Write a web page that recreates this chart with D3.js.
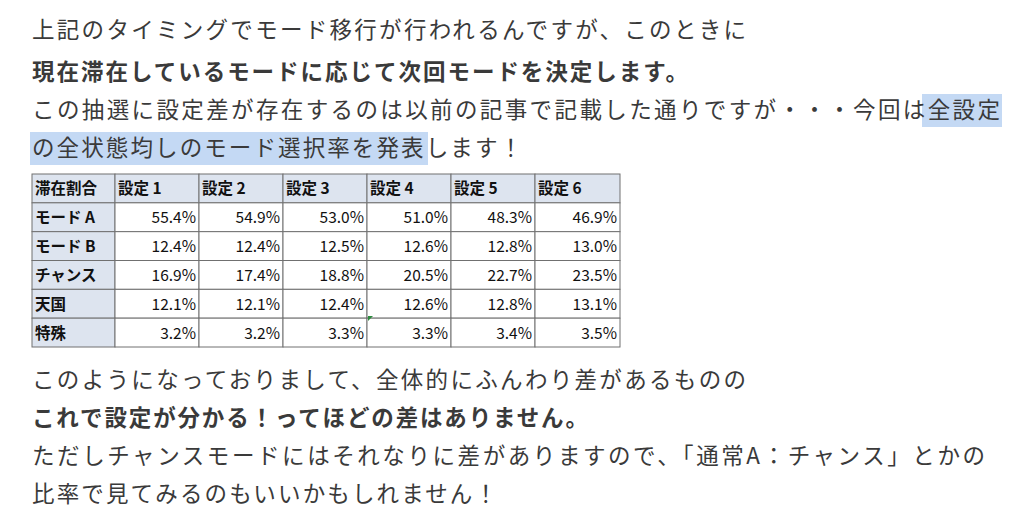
<!DOCTYPE html>
<html>
<head>
<meta charset="utf-8">
<script src="https://d3js.org/d3.v7.min.js"></script>
<style>
  body, html { margin: 0; background: #fff; }
  svg { font-family: "Noto Sans CJK JP", sans-serif; }
</style>
</head>
<body>
<svg id="chart" width="1024" height="520"></svg>
<script>
var columns = ["滞在割合", "設定 1", "設定 2", "設定 3", "設定 4", "設定 5", "設定 6"];
var modes = ["モード A", "モード B", "チャンス", "天国", "特殊"];
var modeA = [55.4, 54.9, 53.0, 51.0, 48.3, 46.9];
var modeB = [12.4, 12.4, 12.5, 12.6, 12.8, 13.0];
var chance = [16.9, 17.4, 18.8, 20.5, 22.7, 23.5];
var tengoku = [12.1, 12.1, 12.4, 12.6, 12.8, 13.1];
var tokushu = [3.2, 3.2, 3.3, 3.3, 3.4, 3.5];
var rows = [modeA, modeB, chance, tengoku, tokushu];

var svg = d3.select("#chart");

// paragraph text (len = rendered width in the screenshot)
var lines = [
  {y: 38, t: "上記のタイミングでモード移行が行われるんですが、このときに", len: 714},
  {y: 80, t: "現在滞在しているモードに応じて次回モードを決定します。", bold: true, len: 656},
  {y: 118, t: "この抽選に設定差が存在するのは以前の記事で記載した通りですが・・・今回は全設定", len: 968, hl: [922, 1002]},
  {y: 156, t: "の全状態均しのモード選択率を発表します！", len: 490, hl: [30, 428]},
  {y: 388, t: "このようになっておりまして、全体的にふんわり差があるものの", len: 714},
  {y: 426, t: "これで設定が分かる！ってほどの差はありません。", bold: true, len: 556},
  {y: 464, t: "ただしチャンスモードにはそれなりに差がありますので、「通常A：チャンス」とかの", len: 953},
  {y: 502, t: "比率で見てみるのもいいかもしれません！", len: 465}
];
lines.forEach(function(l) {
  if (l.hl) {
    svg.append("rect").attr("x", l.hl[0]).attr("y", l.y - 24)
      .attr("width", l.hl[1] - l.hl[0]).attr("height", 33).attr("fill", "#c4d9f4");
  }
  svg.append("text").attr("x", 32).attr("y", l.y)
    .attr("font-size", 22.5).attr("fill", "#3a3a3a")
    .attr("textLength", l.len).attr("lengthAdjust", "spacing")
    .attr("font-weight", l.bold ? "bold" : "normal")
    .text(l.t);
});

// table
var colX = [32, 115, 199, 283, 367, 451, 535, 620];
var y = d3.scaleBand().domain(d3.range(6)).range([174, 347]);
var g = svg.append("g");
for (var r = 0; r < 6; r++) {
  for (var c = 0; c < 7; c++) {
    var x0 = colX[c], w = colX[c + 1] - colX[c];
    var head = r === 0 || c === 0;
    g.append("rect").attr("x", x0).attr("y", y(r)).attr("width", w).attr("height", y.bandwidth())
      .attr("fill", head ? "#dde4ef" : "#fff").attr("stroke", "#707070").attr("stroke-width", 1);
    var txt, anchor = "start", tx = x0 + 3;
    if (r === 0) txt = columns[c];
    else if (c === 0) txt = modes[r - 1];
    else { txt = rows[r - 1][c - 1].toFixed(1) + "%"; anchor = "end"; tx = x0 + w - 3; }
    g.append("text").attr("x", tx).attr("y", y(r) + y.bandwidth() / 2 + 6)
      .attr("text-anchor", anchor).attr("font-size", 15.5)
      .attr("font-weight", head ? "bold" : "normal").attr("fill", "#111").text(txt);
  }
}
g.append("path").attr("d", "M368,316 l5,0 l-5,5 z").attr("fill", "#2e8b3e");
</script>
</body>
</html>
